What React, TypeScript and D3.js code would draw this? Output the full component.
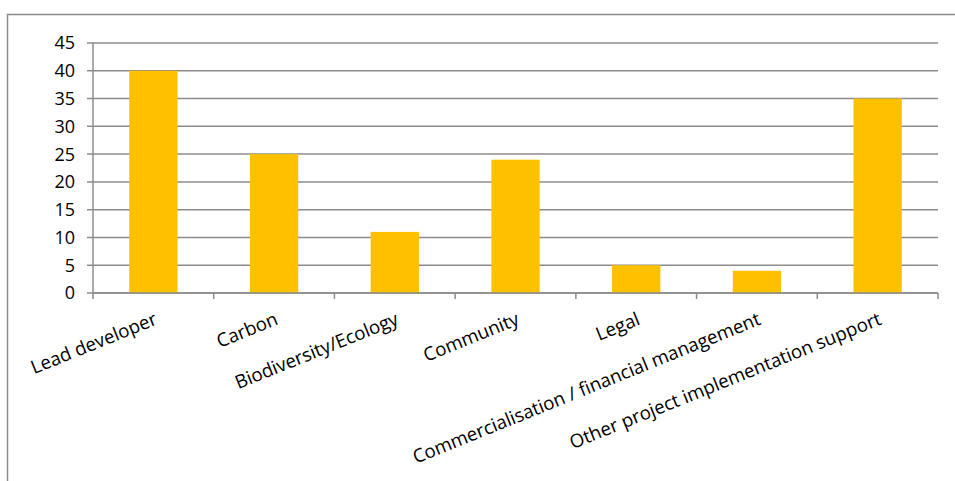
import React from "react";
import * as d3 from "d3";

const categories = [
  "Lead developer",
  "Carbon",
  "Biodiversity/Ecology",
  "Community",
  "Legal",
  "Commercialisation / financial management",
  "Other project implementation support",
];
const values = [40, 25, 11, 24, 5, 4, 35];
const yTicks = [0, 5, 10, 15, 20, 25, 30, 35, 40, 45];

const W = 955;
const H = 481;
const plot = {left: 93, right: 938, top: 43, bottom: 293};
const FONT = "'Open Sans', Lato, sans-serif";

export default function App() {
  const x = d3.scaleBand<string>()
    .domain(categories)
    .range([plot.left, plot.right])
    .paddingInner(0.6)
    .paddingOuter(0.3);
  const band = d3.scaleBand<string>()
    .domain(categories)
    .range([plot.left, plot.right]);
  const y = d3.scaleLinear().domain([0, 45]).range([plot.bottom, plot.top]);

  const tickXs = categories.map((c) => band(c)!).concat([plot.right]);

  return (
    <svg width={W} height={H} style={{position: "absolute", left: 0, top: 0}}>
      <rect x={7.5} y={14.5} width={W + 10} height={H + 10} fill="white" stroke="#8c8c8c" strokeWidth={1.5} />

      {yTicks.map((t) => (
        <g key={t}>
          <line x1={plot.left - 6} x2={plot.right} y1={y(t)} y2={y(t)} stroke="#8c8c8c" strokeWidth={1.5} />
          <text x={75} y={y(t)} dy="0.36em" textAnchor="end" fontFamily={FONT} fontSize={18} fill="#000">
            {t}
          </text>
        </g>
      ))}

      {categories.map((c, i) => (
        <rect key={c} x={x(c)} y={y(values[i])} width={x.bandwidth()} height={y(0) - y(values[i])} fill="#FFC000" />
      ))}

      <line x1={plot.left} x2={plot.left} y1={plot.top} y2={plot.bottom} stroke="#8c8c8c" strokeWidth={1.5} />
      <line x1={plot.left} x2={plot.right} y1={plot.bottom} y2={plot.bottom} stroke="#8c8c8c" strokeWidth={1.5} />
      {tickXs.map((tx, i) => (
        <line key={i} x1={tx} x2={tx} y1={plot.bottom} y2={plot.bottom + 6} stroke="#8c8c8c" strokeWidth={1.5} />
      ))}

      {categories.map((c) => {
        const cx = band(c)! + band.bandwidth() / 2 + 5;
        const cy = plot.bottom + 31;
        return (
          <text key={c} x={cx} y={cy} textAnchor="end" fontFamily={FONT} fontSize={18.7} fill="#000"
            transform={`rotate(-22, ${cx}, ${cy})`}>
            {c}
          </text>
        );
      })}
    </svg>
  );
}
